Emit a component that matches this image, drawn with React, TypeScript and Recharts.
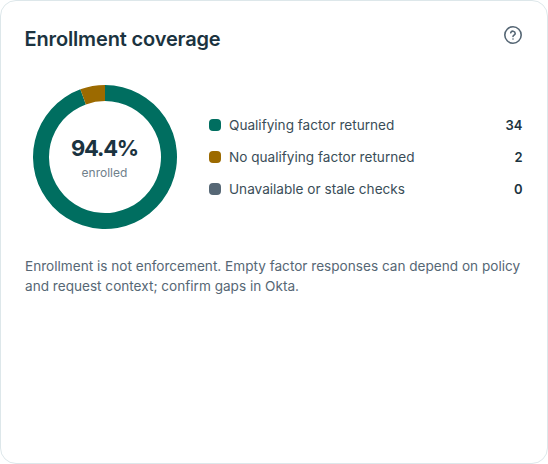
import { Pie, PieChart, Cell } from "recharts"

const labels = ["Qualifying factor returned", "No qualifying factor returned", "Unavailable or stale checks"]
const counts = [34, 2, 0]
const colors = ["#006e60", "#9c6a00", "#566775"]

const pieData = labels.map((name, i) => ({ name, value: counts[i] }))

const font = "Inter, sans-serif"

export default function App() {
  return (
    <div
      style={{
        position: "fixed",
        left: 0,
        top: 0,
        width: 548,
        height: 464,
        boxSizing: "border-box",
        background: "#fff",
        border: "1.5px solid #dde7ea",
        borderRadius: 16,
        fontFamily: font,
        color: "#1b3340",
        overflow: "hidden",
      }}
    >
      <div style={{ position: "absolute", left: 23.5, top: 26, fontSize: 20, fontWeight: 600, lineHeight: "24px", letterSpacing: -0.15 }}>
        Enrollment coverage
      </div>
      <svg style={{ position: "absolute", left: 501, top: 23 }} width="22" height="22" viewBox="0 0 22 22" fill="none" stroke="#566775" strokeWidth="1.6" strokeLinecap="round">
        <circle cx="11" cy="11" r="8.2" />
        <path d="M8.7 8.8a2.3 2.3 0 0 1 4.5.6c0 1.5-2.2 1.8-2.2 3" />
        <path d="M11 15h0" />
      </svg>

      <div style={{ position: "absolute", left: 23.5, top: 75.5 }}>
        <PieChart width={160} height={160} margin={{ top: 0, right: 0, bottom: 0, left: 0 }}>
          <Pie
            data={pieData}
            dataKey="value"
            nameKey="name"
            cx={80}
            cy={80}
            innerRadius={56}
            outerRadius={72}
            startAngle={90}
            endAngle={-270}
            stroke="none"
            isAnimationActive={false}
          >
            {pieData.map((d, i) => (
              <Cell key={d.name} fill={colors[i]} />
            ))}
          </Pie>
        </PieChart>
      </div>
      <div style={{ position: "absolute", left: 43.5, top: 131, width: 120, textAlign: "center", fontSize: 22, fontWeight: 700, lineHeight: "32px", letterSpacing: -1.2 }}>
        94.4%
      </div>
      <div style={{ position: "absolute", left: 43.5, top: 163, width: 120, textAlign: "center", fontSize: 12, lineHeight: "18px", color: "#6f808b" }}>
        enrolled
      </div>

      {labels.map((label, i) => (
        <div key={label} style={{ position: "absolute", left: 207.5, top: 114 + i * 32, width: 314, height: 20, display: "flex", alignItems: "center", fontSize: 13.6, lineHeight: "20px", color: "#3a4d58" }}>
          <span style={{ width: 12, height: 12, borderRadius: 4, background: colors[i], marginRight: 8.5 }} />
          <span style={{ flex: 1 }}>{label}</span>
          <span style={{ fontWeight: 600, fontSize: 13, color: "#1b3340" }}>{counts[i]}</span>
        </div>
      ))}

      <div style={{ position: "absolute", left: 24, top: 255, width: 502, fontSize: 13.6, lineHeight: "20px", color: "#566775" }}>
        Enrollment is not enforcement. Empty factor responses can depend on policy and request context; confirm gaps in Okta.
      </div>
    </div>
  )
}
